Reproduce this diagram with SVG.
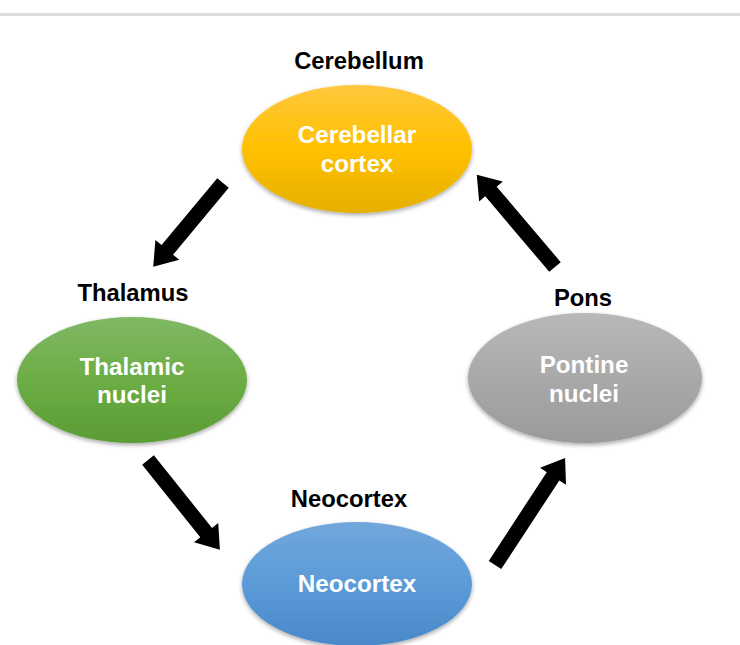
<svg xmlns="http://www.w3.org/2000/svg" width="740" height="645" viewBox="0 0 740 645">
<style>
.lbl{font-family:"Liberation Sans",Arial,sans-serif;font-weight:bold;font-size:23.8px;fill:#000;text-anchor:middle}
.in{font-family:"Liberation Sans",Arial,sans-serif;font-weight:bold;font-size:24.2px;fill:#fff;text-anchor:middle}
.arr{fill:#000}
</style>
<defs>
<linearGradient id="gY" x1="0" y1="0" x2="0" y2="1"><stop offset="0" stop-color="#ffc83e"/><stop offset="0.5" stop-color="#ffc000"/><stop offset="1" stop-color="#e6b000"/></linearGradient>
<linearGradient id="gG" x1="0" y1="0" x2="0" y2="1"><stop offset="0" stop-color="#80b865"/><stop offset="0.5" stop-color="#6cad45"/><stop offset="1" stop-color="#5a9c34"/></linearGradient>
<linearGradient id="gS" x1="0" y1="0" x2="0" y2="1"><stop offset="0" stop-color="#b8b8b8"/><stop offset="0.5" stop-color="#a9a9a9"/><stop offset="1" stop-color="#9a9a9a"/></linearGradient>
<linearGradient id="gB" x1="0" y1="0" x2="0" y2="1"><stop offset="0" stop-color="#72a7dc"/><stop offset="0.5" stop-color="#5b9bd8"/><stop offset="1" stop-color="#4a88c8"/></linearGradient>
<filter id="sh" x="-10%" y="-10%" width="120%" height="130%"><feDropShadow dx="0" dy="2" stdDeviation="2" flood-color="#000" flood-opacity="0.35"/></filter>
</defs>
<rect x="0" y="0" width="740" height="645" fill="#fff"/>
<rect x="0" y="13" width="740" height="3" fill="#dcdcdc"/>
<g id="cerebellum">
<text class="lbl" x="359" y="69">Cerebellum</text>
<ellipse cx="357" cy="149" rx="115" ry="64" fill="url(#gY)" filter="url(#sh)"/>
<text class="in" x="357" y="143">Cerebellar</text>
<text class="in" x="357" y="172">cortex</text>
</g>
<g id="thalamus">
<text class="lbl" x="133" y="301">Thalamus</text>
<ellipse cx="132" cy="380" rx="115" ry="63" fill="url(#gG)" filter="url(#sh)"/>
<text class="in" x="132" y="375">Thalamic</text>
<text class="in" x="132" y="403">nuclei</text>
</g>
<g id="pons">
<text class="lbl" x="583" y="306">Pons</text>
<ellipse cx="585" cy="378" rx="117" ry="65" fill="url(#gS)" filter="url(#sh)"/>
<text class="in" x="584" y="373">Pontine</text>
<text class="in" x="584" y="402">nuclei</text>
</g>
<g id="neocortex">
<text class="lbl" x="349" y="507">Neocortex</text>
<ellipse cx="357" cy="584" rx="115" ry="62" fill="url(#gB)" filter="url(#sh)"/>
<text class="in" x="357" y="592">Neocortex</text>
</g>
<g id="connectors">
<path class="arr" transform="translate(223,183) rotate(129.8)" d="M0,-7.5 H87 V-15.5 L109,0 L87,15.5 V7.5 H0 Z"/>
<path class="arr" transform="translate(148,460) rotate(51.3)" d="M0,-7.5 H93 V-15.5 L115,0 L93,15.5 V7.5 H0 Z"/>
<path class="arr" transform="translate(555,267) rotate(-130.3)" d="M0,-7.5 H99 V-15.5 L121,0 L99,15.5 V7.5 H0 Z"/>
<path class="arr" transform="translate(495,565) rotate(-56.8)" d="M0,-7.5 H106 V-15.5 L128,0 L106,15.5 V7.5 H0 Z"/>
</g>
</svg>
